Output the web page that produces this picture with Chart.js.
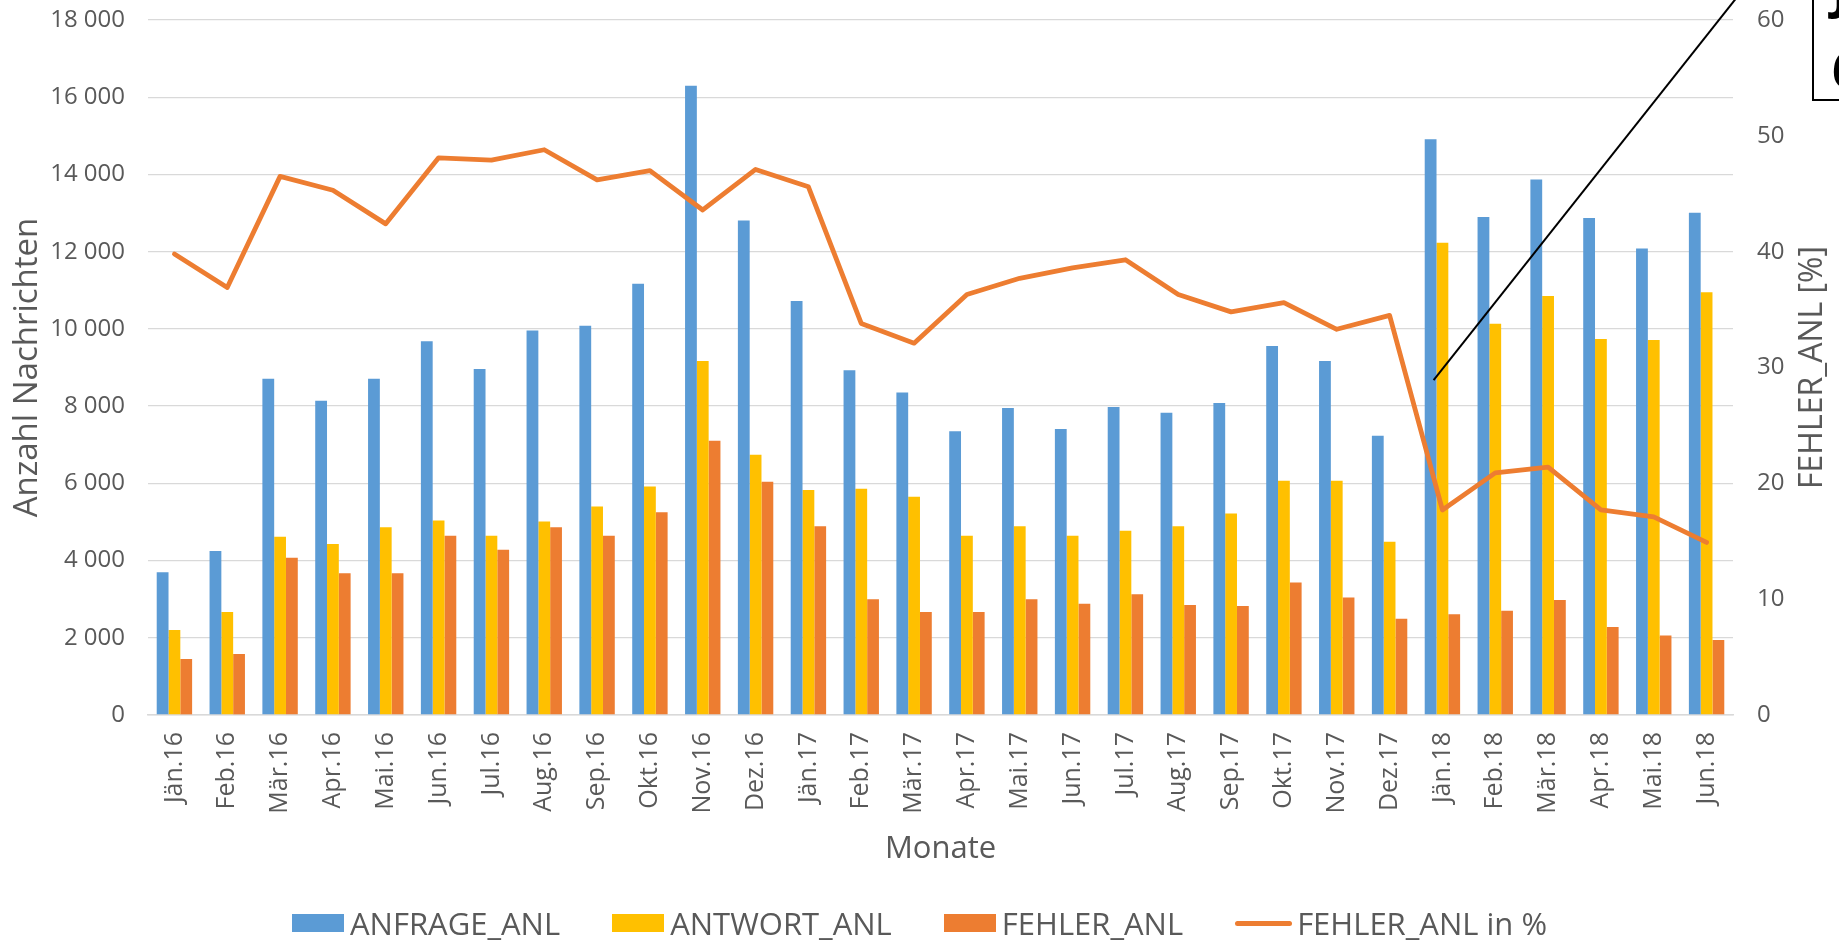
<!DOCTYPE html>
<html><head><meta charset="utf-8">
<script src="https://cdn.jsdelivr.net/npm/chart.js@4"></script>
<style>
html,body{margin:0;padding:0;background:#fff;overflow:hidden;}
#wrap{position:relative;width:1839px;height:943px;}
#legend{position:absolute;left:0;top:905px;width:1839px;height:36px;display:flex;justify-content:center;align-items:center;font-family:'Open Sans';font-size:31px;color:#595959;white-space:nowrap;}
.item{display:flex;align-items:center;margin:0 26px;}
.sw{width:52px;height:18px;margin-right:6px;}
.ln{width:57px;height:5px;border-radius:3px;margin-right:5px;}
#note{position:absolute;left:1812px;top:-26px;width:300px;height:127px;border:2px solid #000;box-sizing:border-box;font-family:'Open Sans';font-weight:bold;font-size:52px;line-height:56px;color:#000;white-space:nowrap;}
#note div{position:absolute;left:18px;}
</style></head>
<body>
<div id="wrap">
<canvas id="c"></canvas>
<div id="legend"></div>
<div id="note"><div style="top:-16px">J</div><div style="top:64px">6</div></div>
</div>
<script>
const months = ['Jän.16','Feb.16','Mär.16','Apr.16','Mai.16','Jun.16','Jul.16','Aug.16','Sep.16','Okt.16','Nov.16','Dez.16',
 'Jän.17','Feb.17','Mär.17','Apr.17','Mai.17','Jun.17','Jul.17','Aug.17','Sep.17','Okt.17','Nov.17','Dez.17',
 'Jän.18','Feb.18','Mär.18','Apr.18','Mai.18','Jun.18'];
const anfrage = [3700,4250,8710,8140,8710,9680,8960,9960,10080,11170,16300,12810,
 10720,8930,8350,7350,7950,7410,7980,7830,8080,9560,9170,7230,
 14910,12900,13870,12870,12080,13010];
const antwort = [2200,2670,4615,4430,4860,5040,4640,5010,5400,5920,9170,6740,
 5830,5860,5650,4640,4890,4640,4770,4890,5220,6070,6070,4490,
 12230,10130,10850,9740,9710,10950];
const fehler = [1450,1580,4070,3670,3670,4640,4280,4860,4640,5250,7100,6040,
 4890,3000,2670,2670,3000,2880,3130,2850,2820,3430,3040,2490,
 2610,2700,2980,2280,2060,1940];
const fehlerPct = [39.8,36.9,46.5,45.3,42.4,48.1,47.9,48.8,46.2,47.0,43.6,47.1,
 45.6,33.8,32.1,36.3,37.7,38.6,39.3,36.3,34.8,35.6,33.3,34.5,
 17.7,20.9,21.4,17.7,17.1,14.9];
const seriesLabels = ['ANFRAGE_ANL','ANTWORT_ANL','FEHLER_ANL','FEHLER_ANL in %'];
const seriesColors = ['#5B9BD5','#FFC000','#ED7D31','#ED7D31'];
const leftTitle = 'Anzahl Nachrichten';
const rightTitle = 'FEHLER_ANL [%]';
const xTitle = 'Monate';
const calloutMonth = 24;
const calloutPct = 28.9;

const fmt = v => String(v).replace(/\B(?=(\d{3})+(?!\d))/g, ' ');
const FONT = "'Open Sans'";
const GRAY = '#595959';

const extras = {
  id: 'extras',
  afterDraw(chart) {
    const {ctx, chartArea, scales} = chart;
    ctx.save();
    ctx.font = '32px ' + FONT;
    ctx.fillStyle = GRAY;
    ctx.textAlign = 'center';
    ctx.textBaseline = 'middle';
    ctx.translate(chartArea.right + 80, (chartArea.top + chartArea.bottom) / 2);
    ctx.rotate(-Math.PI / 2);
    ctx.fillText(rightTitle, 0, 0);
    ctx.restore();
    // callout line
    const bar = chart.getDatasetMeta(0).data[calloutMonth];
    const x0 = bar.x + 3;
    const y0 = scales.y1.getPixelForValue(calloutPct);
    const k = 0.792;
    ctx.save();
    ctx.strokeStyle = '#000';
    ctx.lineWidth = 2;
    ctx.beginPath();
    ctx.moveTo(x0, y0);
    ctx.lineTo(x0 + k * (y0 + 10), -10);
    ctx.stroke();
    ctx.restore();
  }
};

const fixV = w => s => { s.width = w; s.paddingTop = 0; s.paddingBottom = 0; };

const chart = new Chart(document.getElementById('c'), {
  type: 'bar',
  data: {
    labels: months,
    datasets: [
      {label: seriesLabels[0], data: anfrage, backgroundColor: seriesColors[0], yAxisID: 'y', order: 1},
      {label: seriesLabels[1], data: antwort, backgroundColor: seriesColors[1], yAxisID: 'y', order: 1},
      {label: seriesLabels[2], data: fehler, backgroundColor: seriesColors[2], yAxisID: 'y', order: 1},
      {type: 'line', label: seriesLabels[3], data: fehlerPct, borderColor: seriesColors[3], backgroundColor: seriesColors[3],
       borderWidth: 4.8, pointRadius: 0, tension: 0, yAxisID: 'y1', order: 0, borderJoinStyle: 'round', borderCapStyle: 'round'}
    ]
  },
  options: {
    responsive: true,
    maintainAspectRatio: false,
    animation: false,
    categoryPercentage: 0.67,
    barPercentage: 1.0,
    layout: {padding: {top: 20, left: 5, right: 0, bottom: 75}},
    plugins: {legend: {display: false}, tooltip: {enabled: false}},
    scales: {
      x: {
        afterFit: s => { s.height = 153; s.paddingLeft = 0; s.paddingRight = 0; },
        grid: {display: false, drawTicks: false},
        border: {display: true, color: '#D9D9D9', width: 1.5},
        ticks: {font: {family: FONT, size: 25}, color: GRAY, minRotation: 90, maxRotation: 90, padding: 17, autoSkip: false},
        title: {display: true, text: xTitle, font: {family: FONT, size: 31}, color: GRAY, padding: {top: 10, bottom: 0}}
      },
      y: {
        position: 'left', min: 0, max: 18000,
        afterFit: fixV(143),
        grid: {color: '#D9D9D9', lineWidth: 1.3, drawTicks: false},
        border: {display: false},
        ticks: {stepSize: 2000, font: {family: FONT, size: 24}, color: GRAY, padding: 23, callback: v => fmt(v)},
        title: {display: true, text: leftTitle, font: {family: FONT, size: 33}, color: GRAY, padding: {top: 3, bottom: 3}}
      },
      y1: {
        position: 'right', min: 0, max: 60,
        afterFit: fixV(106),
        grid: {display: false, drawTicks: false},
        border: {display: false},
        ticks: {stepSize: 10, font: {family: FONT, size: 24}, color: GRAY, padding: 24}
      }
    }
  },
  plugins: [extras]
});

const lg = document.getElementById('legend');
seriesLabels.forEach((lab, i) => {
  const it = document.createElement('div');
  it.className = 'item';
  const sw = document.createElement('div');
  sw.className = i === 3 ? 'ln' : 'sw';
  sw.style.background = seriesColors[i];
  const tx = document.createElement('span');
  tx.textContent = lab;
  it.appendChild(sw); it.appendChild(tx);
  lg.appendChild(it);
});
</script>
</body></html>
